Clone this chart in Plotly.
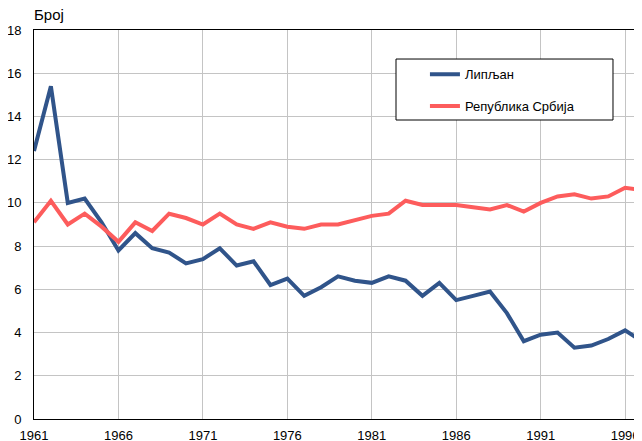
import plotly.graph_objects as go

years = list(range(1961, 1998))
lipljan = [12.4, 15.4, 10.0, 10.2, 9.1, 7.8, 8.6, 7.9, 7.7, 7.2,
           7.4, 7.9, 7.1, 7.3, 6.2, 6.5, 5.7, 6.1, 6.6, 6.4,
           6.3, 6.6, 6.4, 5.7, 6.3, 5.5, 5.7, 5.9, 4.9, 3.6,
           3.9, 4.0, 3.3, 3.4, 3.7, 4.1, 3.6]
srbija = [9.1, 10.1, 9.0, 9.5, 8.9, 8.2, 9.1, 8.7, 9.5, 9.3,
          9.0, 9.5, 9.0, 8.8, 9.1, 8.9, 8.8, 9.0, 9.0, 9.2,
          9.4, 9.5, 10.1, 9.9, 9.9, 9.9, 9.8, 9.7, 9.9, 9.6,
          10.0, 10.3, 10.4, 10.2, 10.3, 10.7, 10.6]
x_ticks = [1961, 1966, 1971, 1976, 1981, 1986, 1991, 1996]
y_ticks = [0, 2, 4, 6, 8, 10, 12, 14, 16, 18]
names = ["Липљан", "Република Србија"]

FONT = "Liberation Sans, Arial, sans-serif"

fig = go.Figure()
fig.add_trace(go.Scatter(x=years, y=lipljan, mode="lines", name=names[0],
                         legendgroup="a",
                         line=dict(color="#30548a", width=4)))
fig.add_trace(go.Scatter(x=years, y=srbija, mode="lines", name=names[1],
                         legendgroup="b",
                         line=dict(color="#fd5c5c", width=4)))

# page body has an 8px default margin: figure size/margins compensate for it
fig.update_layout(
    width=634, height=433,
    margin=dict(l=26, r=0, t=22, b=22),
    paper_bgcolor="white", plot_bgcolor="white",
    font=dict(family=FONT, size=13, color="black"),
    showlegend=True,
    legend=dict(x=0.643, y=0.925, xanchor="left", yanchor="top",
                borderwidth=0, bgcolor="rgba(0,0,0,0)",
                tracegroupgap=12,
                font=dict(family=FONT, size=13, color="black")),
    xaxis=dict(range=[1961, 1997], tickvals=x_ticks, automargin=False,
               showgrid=True, gridcolor="#c4c4c4", gridwidth=1,
               showline=True, linecolor="black", linewidth=1, mirror=True,
               ticks="", ticklabelstandoff=4, zeroline=False),
    yaxis=dict(range=[0, 18], tickvals=y_ticks, automargin=False,
               showgrid=True, gridcolor="#c4c4c4", gridwidth=1,
               showline=True, linecolor="black", linewidth=1, mirror=False,
               ticks="", ticklabelstandoff=9, zeroline=False),
    shapes=[dict(type="rect", xref="paper", yref="paper",
                 x0=0.5954, x1=0.9523, y0=0.7686, y1=0.9254,
                 line=dict(color="black", width=1), fillcolor="white",
                 layer="above")],
    annotations=[dict(text="Број", xref="paper", yref="paper", x=0, y=1,
                      xanchor="left", yanchor="bottom", yshift=5, xshift=-2,
                      showarrow=False, font=dict(family=FONT, size=15, color="black"))],
)

fig.write_html("out.html")
